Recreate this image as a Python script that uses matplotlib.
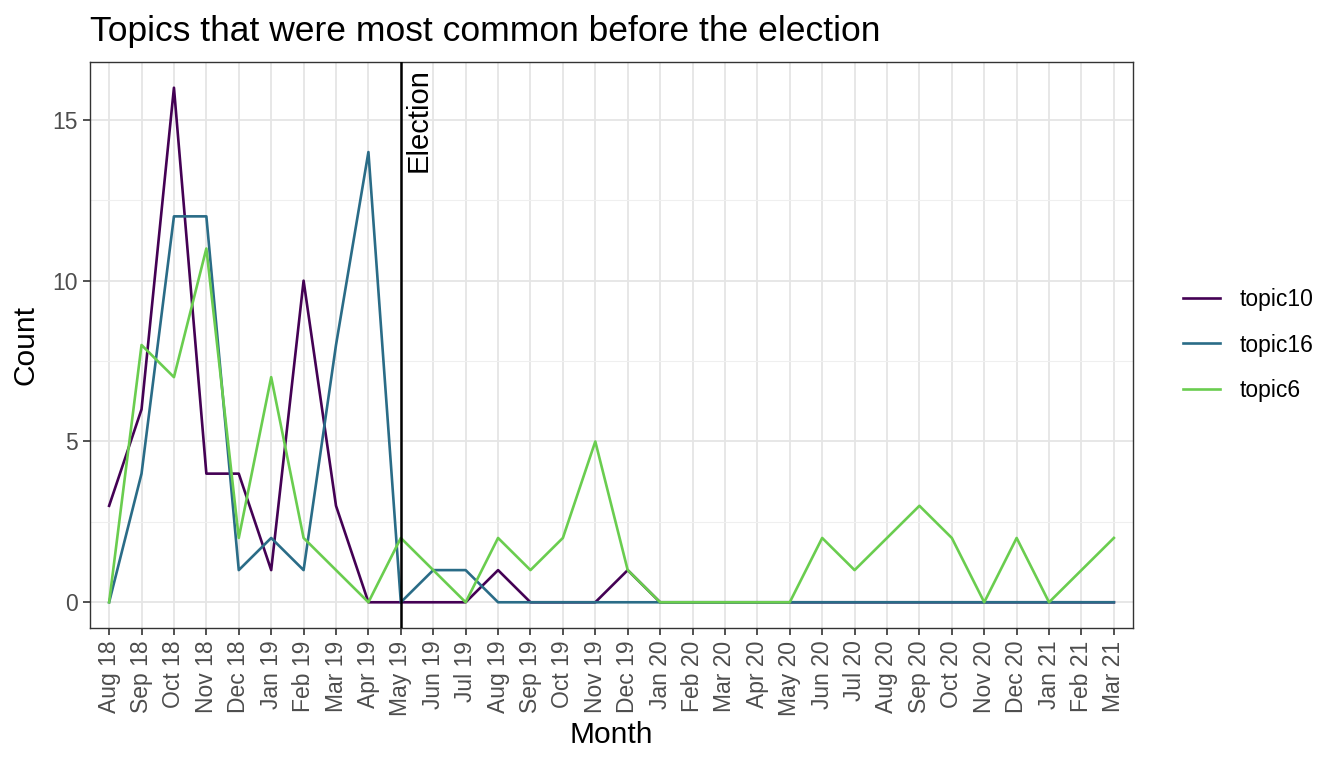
import matplotlib.pyplot as plt
import numpy as np

plt.rcParams['font.family'] = ['Liberation Sans', 'DejaVu Sans']

months = ['Aug 18', 'Sep 18', 'Oct 18', 'Nov 18', 'Dec 18', 'Jan 19', 'Feb 19', 'Mar 19',
          'Apr 19', 'May 19', 'Jun 19', 'Jul 19', 'Aug 19', 'Sep 19', 'Oct 19', 'Nov 19',
          'Dec 19', 'Jan 20', 'Feb 20', 'Mar 20', 'Apr 20', 'May 20', 'Jun 20', 'Jul 20',
          'Aug 20', 'Sep 20', 'Oct 20', 'Nov 20', 'Dec 20', 'Jan 21', 'Feb 21', 'Mar 21']
topic10 = [3, 6, 16, 4, 4, 1, 10, 3, 0, 0, 0, 0, 1, 0, 0, 0, 1, 0, 0, 0, 0, 0, 0, 0, 0, 0, 0, 0, 0, 0, 0, 0]
topic16 = [0, 4, 12, 12, 1, 2, 1, 8, 14, 0, 1, 1, 0, 0, 0, 0, 0, 0, 0, 0, 0, 0, 0, 0, 0, 0, 0, 0, 0, 0, 0, 0]
topic6 = [0, 8, 7, 11, 2, 7, 2, 1, 0, 2, 1, 0, 2, 1, 2, 5, 1, 0, 0, 0, 0, 0, 2, 1, 2, 3, 2, 0, 2, 0, 1, 2]
election_month = 'May 19'

fig = plt.figure(figsize=(13.44, 7.68), dpi=100)
ax = fig.add_axes([90 / 1344, 1 - 628 / 768, (1133 - 90) / 1344, (628 - 62) / 768])

x = np.arange(len(months))
series = [('topic10', topic10, '#440154'), ('topic16', topic16, '#2A6C87'), ('topic6', topic6, '#6ACD4F')]
for name, vals, col in series:
    ax.plot(x, vals, color=col, lw=1.9, label=name, zorder=3)

ex = months.index(election_month)
ax.axvline(ex, color='black', lw=1.8, zorder=4)
ax.text(ex + 0.12, 16.6, 'Election', rotation=90, ha='left', va='top', fontsize=21, color='black')

ax.set_xlim(-0.59, len(months) - 1 + 0.59)
ax.set_ylim(-0.8, 16.8)
ax.set_xticks(x)
ax.set_xticklabels(months, rotation=90, fontsize=16.5, color='#4D4D4D')
ax.set_yticks([0, 5, 10, 15])
ax.set_yticks([2.5, 7.5, 12.5], minor=True)
ax.tick_params(axis='y', labelsize=16.5, labelcolor='#4D4D4D')
ax.tick_params(axis='both', which='major', length=5, width=1.2, color='#333333', pad=4)
ax.tick_params(axis='y', which='minor', length=0)
ax.grid(which='major', color='#E5E5E5', lw=1.3, zorder=0)
ax.grid(which='minor', axis='y', color='#EFEFEF', lw=0.8, zorder=0)
ax.set_axisbelow(True)
for s in ax.spines.values():
    s.set_color('#333333')
    s.set_linewidth(1.0)

ax.set_xlabel('Month', fontsize=21.5, labelpad=4)
ax.set_ylabel('Count', fontsize=21.5, labelpad=9)
ax.set_title('Topics that were most common before the election', fontsize=25.5, loc='left', pad=15)

ax.legend(loc='center left', bbox_to_anchor=((1183 - 90) / 1043, 0.5), frameon=False, fontsize=16.5,
          handlelength=1.6, handletextpad=0.85, labelspacing=1.0, borderaxespad=0, borderpad=0)

fig.savefig('out.png', dpi=100)
